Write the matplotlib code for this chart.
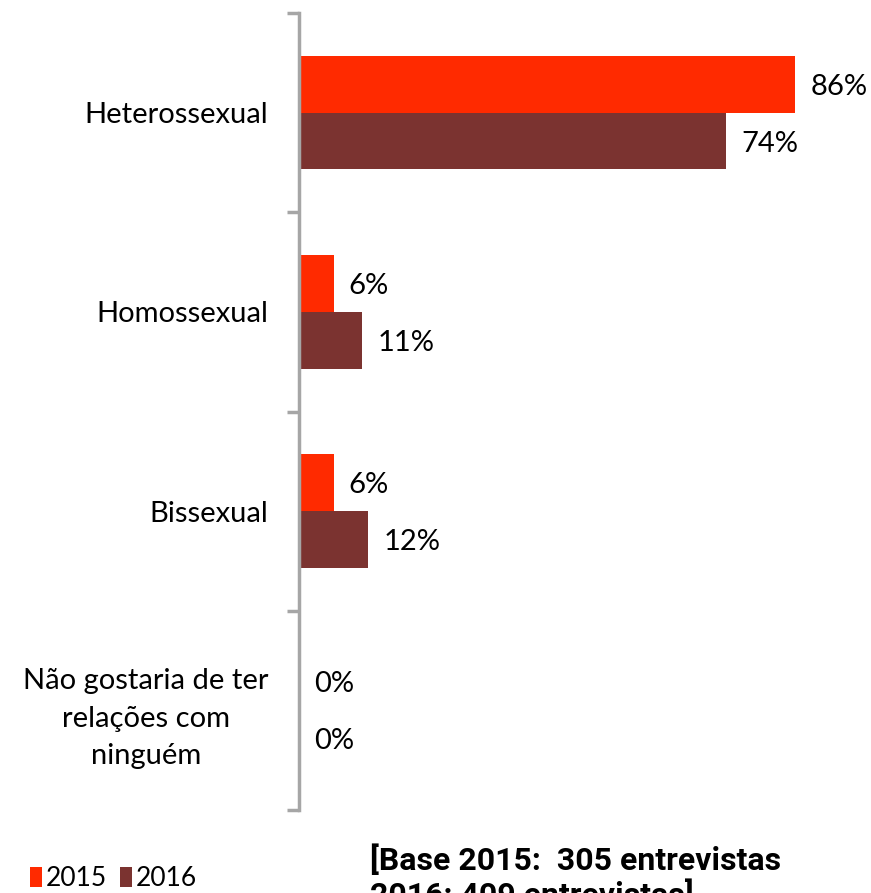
import matplotlib.pyplot as plt
import numpy as np

categories = ["Heterossexual", "Homossexual", "Bissexual",
              "Não gostaria de ter\nrelações com\nninguém"]
series_names = ["2015", "2016"]
vals_2015 = [86, 6, 6, 0]
vals_2016 = [74, 11, 12, 0]
base_lines = ["[Base 2015:  305 entrevistas", "2016: 409 entrevistas]"]

red = "#FF2A00"
brown = "#7B3330"
gray = "#A6A6A6"

plt.rcParams['font.family'] = ['Lato', 'DejaVu Sans']

fig = plt.figure(figsize=(8.71, 8.93), dpi=100)
ax = fig.add_axes([299/871, 83/893, 577/871, 797/893])

y = np.arange(len(categories))
h = 0.285
b1 = ax.barh(y - h/2, vals_2015, height=h, color=red, label=series_names[0])
b2 = ax.barh(y + h/2, vals_2016, height=h, color=brown, label=series_names[1])

for yy, v in zip(y - h/2, vals_2015):
    ax.text(v + 2.6, yy, f"{v}%", va="center_baseline", ha="left", fontsize=21)
for yy, v in zip(y + h/2, vals_2016):
    ax.text(v + 2.6, yy, f"{v}%", va="center_baseline", ha="left", fontsize=21)

ax.set_xlim(0, 100)
ax.set_ylim(3.5, -0.5)
ax.set_yticks(y)
ax.set_yticklabels(categories, fontsize=21, linespacing=1.55)
for lab in ax.get_yticklabels():
    lab.set_ha("right")
    lab.set_multialignment("center")
ax.tick_params(axis="y", which="major", length=0, pad=22)
ax.set_yticks(np.arange(-0.5, 4.0, 1.0), minor=True)
ax.tick_params(axis="y", which="minor", length=9, width=2.5, color=gray)
ax.set_xticks([])
for s in ["top", "right", "bottom"]:
    ax.spines[s].set_visible(False)
ax.spines["left"].set_color(gray)
ax.spines["left"].set_linewidth(2.5)

fig.legend(handles=[b1, b2], loc="center left", bbox_to_anchor=(30/871, 14/893),
           ncol=2, frameon=False, fontsize=19, handlelength=0.45,
           handleheight=0.8, handletextpad=0.15, columnspacing=0.5,
           borderpad=0, borderaxespad=0)

fig.text(370/871, 1 - 870/893, base_lines[0], fontsize=23, fontweight="bold",
         ha="left", va="baseline", family=["Roboto", "DejaVu Sans"])
fig.text(370/871, 1 - 905/893, base_lines[1], fontsize=23, fontweight="bold",
         ha="left", va="baseline", family=["Roboto", "DejaVu Sans"])

plt.savefig("out.png", dpi=100)
